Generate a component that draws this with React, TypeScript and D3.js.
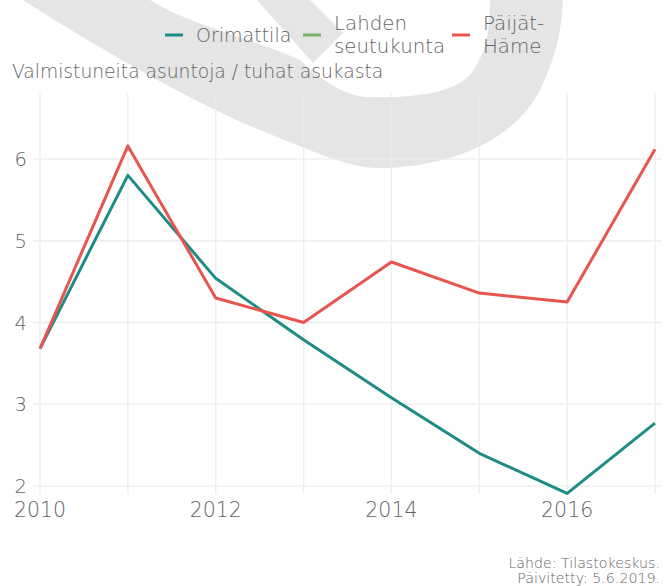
import React from 'react';
import * as d3 from 'd3';

const years = [2010, 2011, 2012, 2013, 2014, 2015, 2016, 2017];
const orimattila = [3.68, 5.80, 4.54, 3.79, 3.08, 2.40, 1.91, 2.77];
const lahdenSeutukunta: number[] = [];
const paijatHame = [3.68, 6.16, 4.30, 4.00, 4.74, 4.36, 4.25, 6.12];
const seriesNames = ['Orimattila', 'Lahden seutukunta', 'Päijät-Häme'];
const seriesColors = ['#1e8c86', '#77b466', '#e8554e'];
const xTicks = [2010, 2012, 2014, 2016];
const yTicks = [2, 3, 4, 5, 6];
const yTitle = 'Valmistuneita asuntoja / tuhat asukasta';
const caption = ['Lähde: Tilastokeskus.', 'Päivitetty: 5.6.2019.'];

const W = 667, H = 586;
const panel = { left: 33, right: 662, top: 93, bottom: 494 };
const FONT = '"DejaVu Sans", sans-serif';
const FW = 200;
const TEXT = '#636363';

export default function App() {
  const x = d3.scaleLinear().domain([2010, 2017]).range([40, 655]);
  const y = d3.scaleLinear().domain([2, 6]).range([486, 159]);
  const line = d3.line<number>().x((_, i) => x(years[i])).y((d) => y(d));
  const data = [orimattila, lahdenSeutukunta, paijatHame];

  const band = 'M23,0 C70,30 180,98 267,133 C320,154 350,168 377,168 C450,168 515,140 540,90 C555,60 562,30 563,0 L490,0 C490,30 486,55 470,75 C450,95 410,98 365,97 C340,94 320,78 300,60 C250,38 190,25 150,0 Z';
  const stripe = 'M257,0 L313,63 L343,33 L310,0 Z';

  return (
    <svg width={W} height={H} style={{ position: 'absolute', left: 0, top: 0, background: '#fff' }} fontFamily={FONT}>
      <rect width={W} height={H} fill="#fff" />
      <path d={band} fill="#e5e5e5" />
      <path d={stripe} fill="#e5e5e5" />
      {years.map((yr) => (
        <line key={'vx' + yr} x1={x(yr)} x2={x(yr)} y1={panel.top} y2={panel.bottom} stroke="#ebebeb" strokeOpacity={0.85} strokeWidth={1.4} />
      ))}
      {yTicks.map((t) => (
        <line key={'hy' + t} x1={panel.left} x2={panel.right} y1={y(t)} y2={y(t)} stroke="#ebebeb" strokeOpacity={0.85} strokeWidth={1.4} />
      ))}
      {data.map((d, i) =>
        d.length ? (
          <path key={seriesNames[i]} d={line(d) || ''} fill="none" stroke={seriesColors[i]} strokeWidth={3} strokeLinejoin="round" />
        ) : null
      )}
      {yTicks.map((t) => (
        <text key={'yt' + t} x={27} y={y(t)} dy="0.36em" textAnchor="end" fontSize={19.5} fontWeight={FW} fill={TEXT}>{t}</text>
      ))}
      {xTicks.map((t) => (
        <text key={'xt' + t} x={x(t)} y={517} textAnchor="middle" fontSize={20.5} fontWeight={FW} fill={TEXT}>{t}</text>
      ))}
      <text x={12} y={78} fontSize={18.7} fontWeight={FW} fill={TEXT}>{yTitle}</text>
      <line x1={165} x2={183} y1={35} y2={35} stroke={seriesColors[0]} strokeWidth={3} />
      <text x={196} y={35} dy="0.36em" fontSize={19} fontWeight={FW} fill={TEXT}>{seriesNames[0]}</text>
      <line x1={303} x2={321} y1={35} y2={35} stroke={seriesColors[1]} strokeWidth={3} />
      <text x={334} y={30} fontSize={19.8} fontWeight={FW} fill={TEXT}>Lahden</text>
      <text x={334} y={53} fontSize={19.8} fontWeight={FW} fill={TEXT}>seutukunta</text>
      <line x1={452} x2={470} y1={35} y2={35} stroke={seriesColors[2]} strokeWidth={3} />
      <text x={483} y={30} fontSize={19.8} fontWeight={FW} fill={TEXT}>Päijät-</text>
      <text x={483} y={53} fontSize={19.8} fontWeight={FW} fill={TEXT}>Häme</text>
      <text x={660} y={568} textAnchor="end" fontSize={14.2} fontWeight={FW} fill={TEXT}>{caption[0]}</text>
      <text x={660} y={583} textAnchor="end" fontSize={14.2} fontWeight={FW} fill={TEXT}>{caption[1]}</text>
    </svg>
  );
}
